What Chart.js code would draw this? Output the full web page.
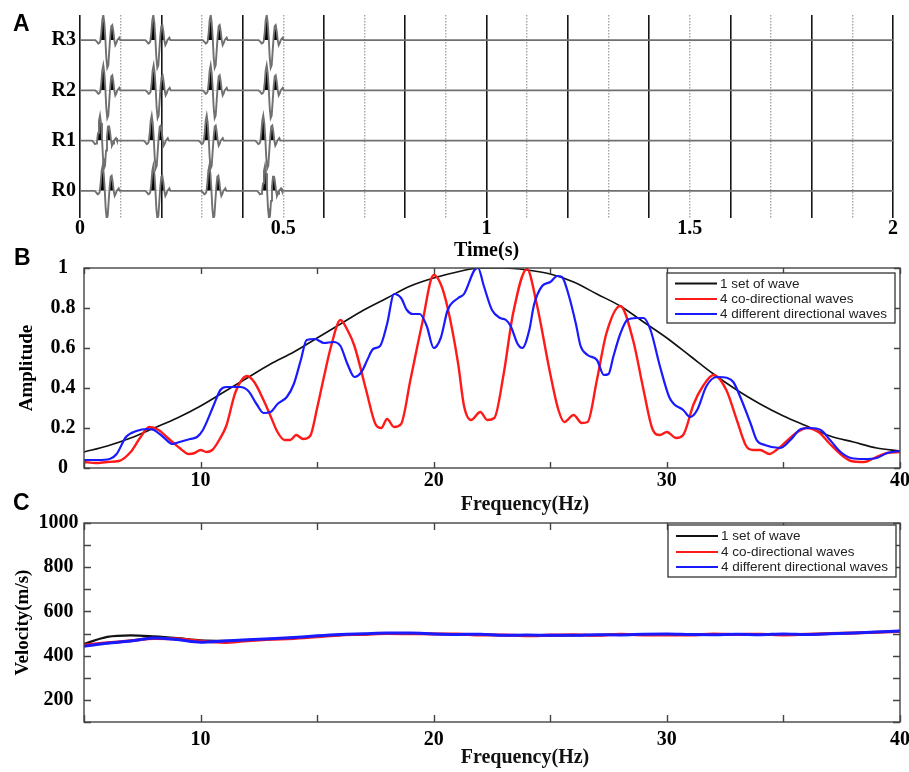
<!DOCTYPE html>
<html><head><meta charset="utf-8">
<script src="https://cdn.jsdelivr.net/npm/chart.js@4.4.1/dist/chart.umd.min.js"></script>
<style>
html,body{margin:0;padding:0;background:#fff;}
body{width:909px;height:772px;position:relative;overflow:hidden;}
canvas{position:absolute;left:0;display:block;}
.lt{position:absolute;font-family:'Liberation Sans',Arial,sans-serif;font-weight:bold;font-size:23px;line-height:23px;color:#000;}
</style></head><body>
<canvas id="cA" width="909" height="262" style="top:0"></canvas>
<canvas id="cB" width="909" height="262" style="top:258px"></canvas>
<canvas id="cC" width="909" height="264" style="top:508px"></canvas>
<div class="lt" style="left:13px;top:12px">A</div>
<div class="lt" style="left:14px;top:246px">B</div>
<div class="lt" style="left:13px;top:491px">C</div>
<script>
// ---------------- DATA ----------------
// Panel A : receiver traces
const A_rowLabels = ['R0', 'R1', 'R2', 'R3'];
const A_xTickLabels = ['0', '0.5', '1', '1.5', '2'];
// time of main peak of each wavelet (s), one list per receiver R0..R3
const A_peakTimesR0 = [0.0558, 0.1804, 0.3182, 0.4551];
const A_peakTimesR1 = [0.0492, 0.1765, 0.3117, 0.4509];
const A_peakTimesR2 = [0.0573, 0.1812, 0.3215, 0.4593];
const A_peakTimesR3 = [0.0573, 0.1804, 0.3215, 0.4593];
// wavelet shape: time offset from main peak (s) and amplitude (trace spacing = 1)
const A_waveletDt = [-0.0197, -0.0148, -0.0123, -0.0098, -0.0074, -0.0049, -0.0025, 0, 0.0025, 0.0049, 0.0074, 0.0098,
  0.0123, 0.0148, 0.0172, 0.0197, 0.0221, 0.0246, 0.0271, 0.0295, 0.0320, 0.0344, 0.0394, 0.0418];
const A_waveletAmp = [0, -0.04, -0.07, -0.06, -0.02, 0.15, 0.4, 0.5, 0.35, 0.05, -0.35, -0.55,
  -0.5, -0.2, 0.08, 0.28, 0.3, 0.18, 0.0, -0.1, -0.06, 0.0, 0.05, 0];

// Panel B : amplitude spectra
const seriesNames = ['1 set of wave', '4 co-directional waves', '4 different directional waves'];
const B_xTickLabels = {10: '10', 20: '20', 30: '30', 40: '40'};
const B_yTickLabels = ['0', '0.2', '0.4', '0.6', '0.8', '1'];
const B_blackFreq = [5,6,7,8,9,10,11,12,13,14,15,16,17,18,19,20,21,22,23,24,25,26,27,28,29,30,31,32,33,34,35,36,37,38,39,40];
const B_blackAmp = [0.08,0.11,0.15,0.20,0.25,0.31,0.38,0.45,0.52,0.58,0.65,0.72,0.79,0.85,0.91,0.95,0.98,1.0,1.0,0.99,0.97,0.93,0.87,0.81,0.73,0.65,0.56,0.47,0.39,0.32,0.26,0.21,0.16,0.13,0.10,0.085];
const B_redFreq = [5.0,5.5,6.0,6.5,7.0,7.4,7.8,8.2,8.6,9.1,9.5,9.75,10.0,10.25,10.5,10.8,11.1,11.5,12.0,12.3,12.7,13.0,13.3,13.6,13.85,14.1,14.4,14.7,15.0,15.3,15.6,16.0,16.3,16.6,17.1,17.5,17.75,18.0,18.3,18.6,19.0,19.5,20.0,20.3,20.6,21.05,21.3,21.6,22.0,22.3,22.6,23.0,23.4,24.0,24.4,25.0,25.35,25.6,26.0,26.35,26.6,27.0,27.4,28.0,28.55,29.0,29.4,29.7,30.0,30.4,30.7,31.15,31.55,32.0,32.55,33.0,33.4,33.7,34.0,34.4,34.7,35.1,35.6,36.0,36.5,37.0,37.6,37.9,38.45,38.9,39.45,40.0];
const B_redAmp = [0.03,0.025,0.03,0.035,0.08,0.15,0.205,0.19,0.15,0.10,0.07,0.075,0.09,0.08,0.09,0.14,0.21,0.38,0.46,0.43,0.34,0.26,0.18,0.14,0.14,0.165,0.145,0.16,0.30,0.46,0.61,0.74,0.69,0.61,0.39,0.22,0.20,0.245,0.205,0.22,0.44,0.72,0.965,0.92,0.80,0.52,0.31,0.24,0.28,0.24,0.25,0.47,0.77,0.995,0.83,0.47,0.29,0.23,0.265,0.225,0.23,0.44,0.67,0.81,0.64,0.39,0.19,0.165,0.18,0.15,0.165,0.32,0.41,0.465,0.39,0.24,0.11,0.09,0.09,0.07,0.09,0.13,0.18,0.20,0.18,0.12,0.055,0.035,0.03,0.05,0.075,0.08];
const B_blueFreq = [5.0,5.6,6.1,6.4,6.8,7.25,7.7,8.0,8.4,8.8,9.1,9.55,9.85,10.1,10.55,10.85,11.1,11.7,12.05,12.4,12.7,13.0,13.3,13.7,14.0,14.3,14.55,14.9,15.3,15.7,16.0,16.3,16.6,16.9,17.15,17.4,17.7,18.0,18.3,18.6,18.85,19.1,19.4,19.7,20.0,20.3,20.6,21.05,21.3,21.75,21.9,22.15,22.5,22.85,23.1,23.3,23.6,23.8,24.1,24.3,24.65,25.0,25.3,25.5,25.8,26.1,26.3,26.6,27.0,27.3,27.5,27.7,28.0,28.3,28.7,29.0,29.3,29.7,30.1,30.3,30.7,31.0,31.3,31.7,32.15,32.6,32.85,33.15,33.6,33.85,34.2,34.85,35.3,35.75,36.15,36.6,37.0,37.45,37.9,38.45,39.0,39.45,40.0];
const B_blueAmp = [0.04,0.04,0.045,0.07,0.155,0.185,0.195,0.19,0.155,0.12,0.13,0.145,0.155,0.19,0.31,0.39,0.405,0.405,0.385,0.32,0.275,0.28,0.32,0.355,0.42,0.54,0.64,0.645,0.625,0.63,0.61,0.52,0.455,0.48,0.54,0.595,0.61,0.72,0.87,0.85,0.79,0.77,0.77,0.71,0.60,0.65,0.79,0.85,0.87,0.99,1.0,0.91,0.79,0.75,0.74,0.71,0.62,0.60,0.69,0.815,0.91,0.93,0.96,0.955,0.86,0.72,0.61,0.565,0.54,0.465,0.47,0.555,0.67,0.74,0.75,0.75,0.69,0.51,0.355,0.32,0.29,0.255,0.29,0.41,0.455,0.45,0.43,0.355,0.22,0.14,0.115,0.10,0.14,0.195,0.20,0.19,0.14,0.08,0.05,0.045,0.05,0.075,0.085];

// Panel C : phase velocity
const C_yTickLabels = {200: '200', 400: '400', 600: '600', 800: '800', 1000: '1000'};
const C_freq = [5,6,7,8,9,10,11,12,13,14,15,16,17,18,19,20,21,22,23,24,25,26,27,28,29,30,31,32,33,34,35,36,37,38,39,40];
const C_black = [453,485,492,487,479,469,467,470,475,481,487,493,497,500,500,499,497,495,493,492,491,492,493,494,495,496,496,496,496,496,496,497,499,502,506,510];
const C_red = [448,458,467,478,476,466,460,468,474,478,485,494,496,500,499,498,498,493,494,490,493,495,492,497,494,494,493,498,496,497,494,497,500,503,506,510];
const C_blue = [443,456,466,480,473,461,466,472,476,482,490,496,499,502,502,498,496,497,492,493,492,492,495,494,497,498,496,495,497,495,498,496,499,503,507,511];

// ---------------- STYLE / HELPERS ----------------
const SERIF = "'Liberation Serif','Times New Roman',serif";
const SANS = "'Liberation Sans',Arial,sans-serif";
const tickFont = {family: SERIF, size: 20, weight: 'bold', lineHeight: 1};
const titleFont = {family: SERIF, size: 20, weight: 'bold', lineHeight: 1};
const vTitleFont = {family: SERIF, size: 19, weight: 'bold', lineHeight: 1};
const colors = ['#111111', '#ff1a1a', '#1a1aff'];
const zip = (xs, ys) => xs.map((x, i) => ({x: x, y: ys[i]}));
const noPad = s => { s.paddingLeft = 0; s.paddingRight = 0; s.paddingTop = 0; s.paddingBottom = 0; };

const A_peakTimes = [A_peakTimesR0, A_peakTimesR1, A_peakTimesR2, A_peakTimesR3];
function buildTrace(r) {
  const pts = [{x: 0, y: r}];
  A_peakTimes[r].forEach(tp => {
    A_waveletDt.forEach((dt, k) => pts.push({x: tp + dt, y: r + A_waveletAmp[k]}));
  });
  pts.push({x: 2, y: r});
  return pts;
}

const frame = {
  id: 'frame',
  afterDatasetsDraw(chart, args, o) {
    if (!o || !o.enabled) return;
    const {ctx, chartArea: a, scales} = chart;
    ctx.save();
    ctx.strokeStyle = o.color; ctx.lineWidth = o.width;
    ctx.beginPath();
    const L = o.tickLen;
    scales.x.ticks.forEach(t => {
      const p = Math.round(scales.x.getPixelForValue(t.value)) + 0.5;
      ctx.moveTo(p, a.bottom); ctx.lineTo(p, a.bottom - L);
      ctx.moveTo(p, a.top); ctx.lineTo(p, a.top + L);
    });
    scales.y.ticks.forEach(t => {
      const p = Math.round(scales.y.getPixelForValue(t.value)) + 0.5;
      ctx.moveTo(a.left, p); ctx.lineTo(a.left + L, p);
      ctx.moveTo(a.right, p); ctx.lineTo(a.right - L, p);
    });
    ctx.stroke();
    ctx.strokeRect(a.left, a.top, a.right - a.left, a.bottom - a.top);
    ctx.restore();
  }
};

const boxLegend = {
  id: 'boxLegend',
  afterDraw(chart, args, o) {
    if (!o || !o.enabled) return;
    const {ctx, chartArea: a} = chart;
    const x0 = a.right - o.inset - o.width, y0 = a.top + o.top;
    ctx.save();
    ctx.fillStyle = '#fff'; ctx.fillRect(x0, y0, o.width, o.height);
    ctx.strokeStyle = '#333'; ctx.lineWidth = 1.3; ctx.strokeRect(x0, y0, o.width, o.height);
    ctx.font = o.font; ctx.textBaseline = 'middle'; ctx.textAlign = 'left';
    const ds = chart.data.datasets;
    o.rows.forEach((ry, i) => {
      ctx.strokeStyle = ds[i].borderColor; ctx.lineWidth = 2;
      ctx.beginPath(); ctx.moveTo(x0 + 8, y0 + ry); ctx.lineTo(x0 + 50, y0 + ry); ctx.stroke();
      ctx.fillStyle = '#222'; ctx.fillText(ds[i].label, x0 + 53, y0 + ry + 0.5);
    });
    ctx.restore();
  }
};

const freeText = {
  id: 'freeText',
  afterDraw(chart, args, o) {
    if (!o || !o.items) return;
    const ctx = chart.ctx;
    ctx.save();
    o.items.forEach(it => {
      ctx.font = it.font; ctx.fillStyle = '#111'; ctx.textAlign = 'center'; ctx.textBaseline = 'middle';
      ctx.fillText(it.text, it.x, it.y);
    });
    ctx.restore();
  }
};

Chart.defaults.font.family = SERIF;

// ---------------- PANEL A ----------------
new Chart(document.getElementById('cA'), {
  type: 'line',
  data: {
    datasets: A_rowLabels.map((lab, r) => ({
      label: lab, data: buildTrace(r), borderColor: '#707070', borderWidth: 1.9,
      pointRadius: 0, tension: 0,
      fill: {target: {value: r}, above: '#000000', below: 'rgba(0,0,0,0)'}
    }))
  },
  options: {
    responsive: false, animation: false,
    layout: {autoPadding: false, padding: {left: 0, right: 16, top: 15, bottom: 0}},
    plugins: {legend: {display: false}, tooltip: {enabled: false}},
    scales: {
      x: {
        type: 'linear', min: 0, max: 2,
        afterFit: s => { s.height = 44; noPad(s); },
        ticks: {
          stepSize: 0.1, autoSkip: false, maxRotation: 0, padding: 1, font: tickFont, color: '#000',
          callback: v => { const k = Math.round(v * 10); return k % 5 === 0 ? A_xTickLabels[k / 5] : ''; }
        },
        grid: {
          drawTicks: false,
          color: c => (c.tick && Math.round(c.tick.value * 10) % 2 === 0) ? '#151515' : '#a5a5a5',
          lineWidth: c => (c.tick && Math.round(c.tick.value * 10) % 2 === 0) ? 1.6 : 1.4
        },
        border: {display: false, dash: c => (c.tick && Math.round(c.tick.value * 10) % 2 === 0) ? [] : [1.5, 1.5]},
        title: {display: true, text: 'Time(s)', font: titleFont, color: '#000', padding: {top: 0, bottom: 1.5}}
      },
      y: {
        type: 'linear', min: -0.54, max: 3.5,
        afterFit: s => { s.width = 80; noPad(s); },
        afterBuildTicks: s => { s.ticks = A_rowLabels.map((_, i) => ({value: i})); },
        ticks: {padding: 4, font: tickFont, color: '#000', callback: v => A_rowLabels[Math.round(v)]},
        grid: {display: false, drawTicks: false}, border: {display: false}
      }
    }
  }
});

// ---------------- PANEL B ----------------
new Chart(document.getElementById('cB'), {
  type: 'line',
  data: {
    datasets: [
      {label: seriesNames[0], data: zip(B_blackFreq, B_blackAmp), borderColor: colors[0], borderWidth: 1.6, order: 3},
      {label: seriesNames[1], data: zip(B_redFreq, B_redAmp), borderColor: colors[1], borderWidth: 2.4, order: 2},
      {label: seriesNames[2], data: zip(B_blueFreq, B_blueAmp), borderColor: colors[2], borderWidth: 2.2, order: 1}
    ].map(d => Object.assign(d, {pointRadius: 0, fill: false, cubicInterpolationMode: 'monotone'}))
  },
  plugins: [frame, boxLegend, freeText],
  options: {
    responsive: false, animation: false,
    layout: {autoPadding: false, padding: {left: 0, right: 9, top: 10, bottom: 0}},
    plugins: {
      legend: {display: false}, tooltip: {enabled: false},
      frame: {enabled: true, color: '#444', width: 1.4, tickLen: 6},
      boxLegend: {enabled: true, inset: 5, top: 5, width: 228, height: 50, rows: [10.5, 26, 41], font: '13.5px ' + SANS},
      freeText: {items: [{text: 'Frequency(Hz)', x: 525, y: 247, font: 'bold 20px ' + SERIF}]}
    },
    scales: {
      x: {
        type: 'linear', min: 5, max: 40,
        afterFit: s => { s.height = 52; noPad(s); },
        ticks: {stepSize: 5, autoSkip: false, maxRotation: 0, padding: 3, font: tickFont, color: '#000',
          callback: v => B_xTickLabels[Math.round(v)] || ''},
        grid: {display: false, drawTicks: false}, border: {display: false}
      },
      y: {
        type: 'linear', min: 0, max: 1,
        afterFit: s => { s.width = 84; noPad(s); },
        ticks: {stepSize: 0.2, crossAlign: 'center', padding: 8.5, font: tickFont, color: '#000',
          callback: v => B_yTickLabels[Math.round(v * 5)]},
        grid: {display: false, drawTicks: false}, border: {display: false},
        title: {display: true, text: 'Amplitude', font: vTitleFont, color: '#000', padding: {top: 17.5, bottom: 0}}
      }
    }
  }
});

// ---------------- PANEL C ----------------
new Chart(document.getElementById('cC'), {
  type: 'line',
  data: {
    datasets: [
      {label: seriesNames[0], data: zip(C_freq, C_black), borderColor: colors[0], borderWidth: 2.2, order: 3},
      {label: seriesNames[1], data: zip(C_freq, C_red), borderColor: colors[1], borderWidth: 3, order: 2},
      {label: seriesNames[2], data: zip(C_freq, C_blue), borderColor: colors[2], borderWidth: 3, order: 1}
    ].map(d => Object.assign(d, {pointRadius: 0, fill: false, cubicInterpolationMode: 'monotone'}))
  },
  plugins: [frame, boxLegend, freeText],
  options: {
    responsive: false, animation: false,
    layout: {autoPadding: false, padding: {left: 0, right: 9, top: 15, bottom: 0}},
    plugins: {
      legend: {display: false}, tooltip: {enabled: false},
      frame: {enabled: true, color: '#444', width: 1.4, tickLen: 7},
      boxLegend: {enabled: true, inset: 4, top: 2, width: 228, height: 52, rows: [11, 27, 42], font: '13.5px ' + SANS},
      freeText: {items: [{text: 'Frequency(Hz)', x: 525, y: 250, font: 'bold 20px ' + SERIF}]}
    },
    scales: {
      x: {
        type: 'linear', min: 5, max: 40,
        afterFit: s => { s.height = 50; noPad(s); },
        ticks: {stepSize: 5, autoSkip: false, maxRotation: 0, padding: 8, font: tickFont, color: '#000',
          callback: v => B_xTickLabels[Math.round(v)] || ''},
        grid: {display: false, drawTicks: false}, border: {display: false}
      },
      y: {
        type: 'linear', min: 100, max: 1000,
        afterFit: s => { s.width = 84; noPad(s); },
        ticks: {stepSize: 100, autoSkip: false, crossAlign: 'center', padding: 5.5, font: tickFont, color: '#000',
          callback: v => C_yTickLabels[Math.round(v)] || ''},
        grid: {display: false, drawTicks: false}, border: {display: false},
        title: {display: true, text: 'Velocity(m/s)', font: vTitleFont, color: '#000', padding: {top: 13.5, bottom: 0}}
      }
    }
  }
});
</script>
</body></html>
